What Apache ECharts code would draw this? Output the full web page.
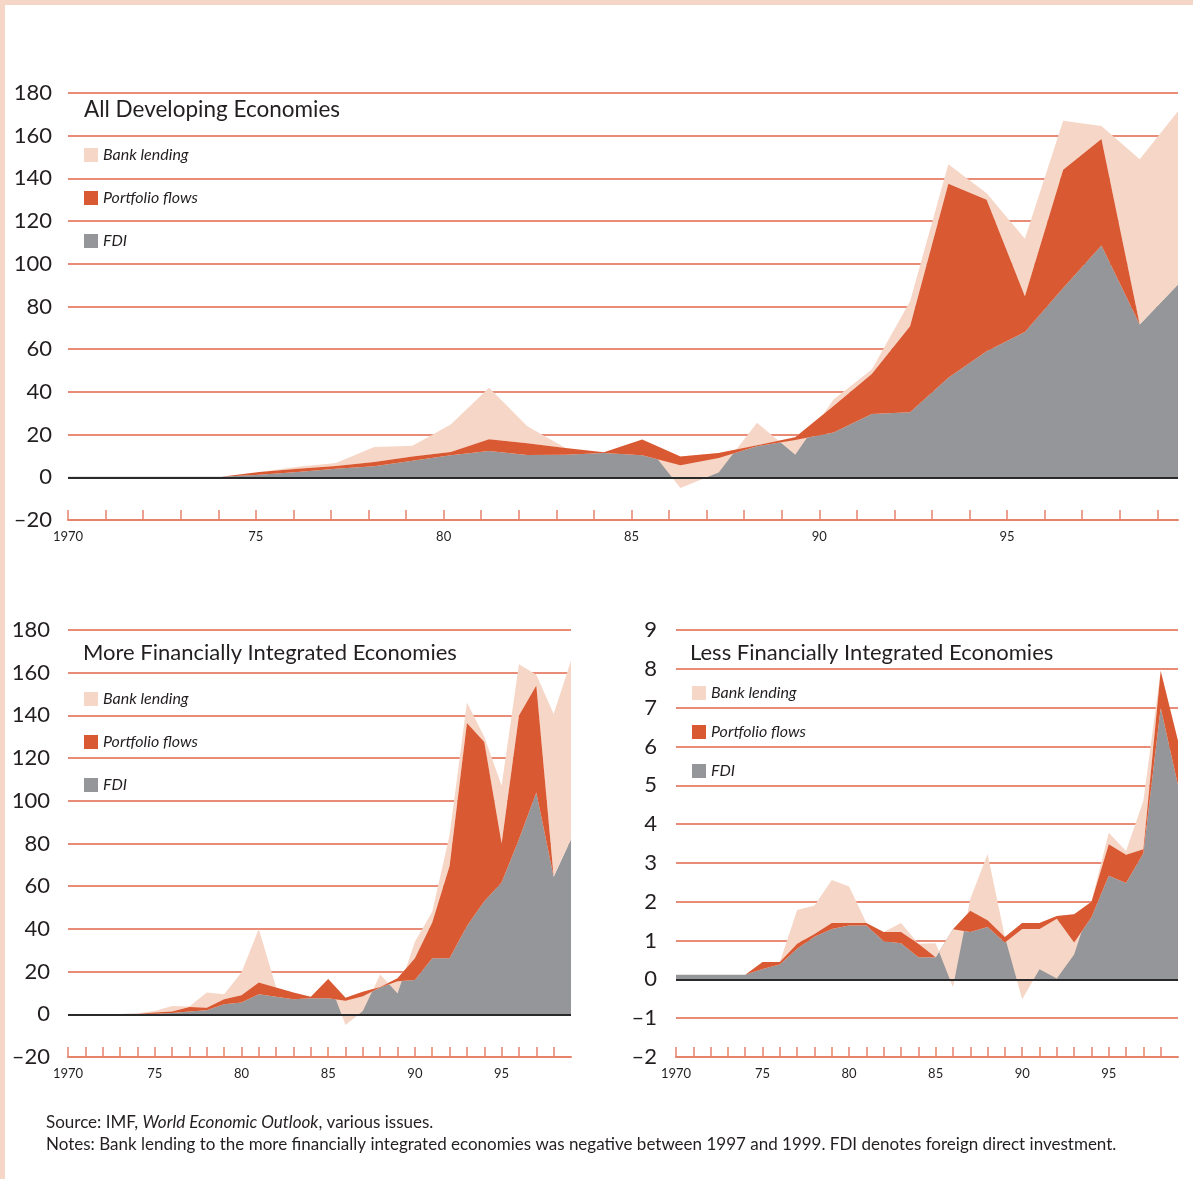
<!DOCTYPE html>
<html>
<head>
<meta charset="utf-8">
<script src="https://cdn.jsdelivr.net/npm/echarts@6/dist/echarts.min.js"></script>
<style>
html, body { margin: 0; padding: 0; background: #fff; }
#main { width: 1193px; height: 1179px; }
</style>
</head>
<body>
<div id="main"></div>
<script>
var years = [1970, 1971, 1972, 1973, 1974, 1975, 1976, 1977, 1978, 1979,
             1980, 1981, 1982, 1983, 1984, 1985, 1986, 1987, 1988, 1989,
             1990, 1991, 1992, 1993, 1994, 1995, 1996, 1997, 1998, 1999];
var labelYears = [1970, 1975, 1980, 1985, 1990, 1995];
var tickYears = years.slice(0, 29);

// All developing economies (billions of US dollars)
var allFdi = [0.2, 0.2, 0.2, 0.2, 0.2, 1.2, 2.5, 4, 5.2, 7.8,
              10.3, 12.3, 10.5, 10.6, 11.4, 10.3, 5.6, 9, 14.5, 17.5,
              21, 29.7, 30.5, 46.6, 59, 68, 88.7, 108.6, 71.6, 90.3];
var allPortfolio = [0, 0, 0, 0, 0, 1.3, 1.5, 1.3, 2, 1.9,
                    1.6, 5.5, 5.5, 3.1, 0.3, 7.4, 4.2, 2.4, 0.5, 1.3,
                    12.4, 18.7, 40.3, 90.9, 71, 16.8, 55.3, 49.9, 0, 0];
var allBank = [0, 0, 0, 0, 0, 0, 1, 1.4, 7, 5.1,
               12.8, 24.1, 7.9, 0, 0, 0, -14.8, -9.1, 10.5, -8.2,
               3, 2.1, 11.7, 9.1, 3, 26.9, 23, 6, 77.4, 81.2];

// More financially integrated economies
var moreFdi = [0.1, 0.1, 0.1, 0.1, 0.3, 0.3, 0.6, 1.3, 1.9, 4.7,
               5.5, 9.4, 8.2, 7, 7.5, 7.5, 6.3, 8.5, 12.5, 15.5,
               16.1, 26.2, 26.3, 41.4, 53, 61.7, 82, 103.9, 64.4, 82];
var morePortfolio = [0, 0, 0, 0, 0, 0.5, 0.7, 2.1, 1.2, 2.3,
                     3.4, 5.5, 4.3, 3.2, 0.7, 9, 1.5, 2.1, 0.3, 1.4,
                     10.1, 16.8, 43.2, 95, 74.5, 18.3, 58, 50.1, 0, 0];
var moreBank = [0, 0, 0, 0, 0.2, 0.8, 2.6, 0.2, 7.1, 2.4,
                10.7, 25.1, 0, 0, 0, 0, -12.8, -9.1, 5.9, -7.1,
                7.8, 5, 14.5, 9.6, 2.5, 27, 24, 5, 76.2, 83.6];

// Less financially integrated economies
var lessFdi = [0.12, 0.12, 0.12, 0.12, 0.12, 0.27, 0.38, 0.79, 1.1, 1.3,
               1.39, 1.39, 0.98, 0.93, 0.57, 0.57, 1.29, 1.22, 1.35, 0.95,
               1.3, 1.3, 1.56, 0.95, 1.6, 2.67, 2.48, 3.25, 7.0, 5.0];
var lessPortfolio = [0, 0, 0, 0, 0, 0.18, 0.07, 0.13, 0.07, 0.15,
                     0.06, 0.06, 0.24, 0.29, 0.35, 0, 0, 0.55, 0.17, 0.14,
                     0.15, 0.15, 0.07, 0.73, 0.4, 0.81, 0.73, 0.1, 0.95, 1.15];
var lessBank = [0, 0, 0, 0, 0, 0, 0, 0.87, 0.73, 1.11,
                0.94, 0, 0, 0.23, 0, 0.36, -1.49, 0.3, 1.71, 0,
                -1.96, -1.19, -1.61, -1.04, 0, 0.3, 0.1, 1.25, 0, 0];

var PALE = '#f6d6c6', RED = '#d95933', GREY = '#959699';
var GRIDLINE = '#e2664a', AXIS = '#e6836b', INK = '#231f20';
var FONT = 'Lato';

var myChart = echarts.init(document.getElementById('main'));

// stacked band: grey FDI at the bottom, portfolio on top of it, bank lending last
// (bank lending can be negative, so stack everything regardless of sign)
function area(name, vals, color, z, xi, yi, stack, zero) {
    var s = {
        name: name,
        type: 'line',
        stack: stack,
        stackStrategy: 'all',
        xAxisIndex: xi,
        yAxisIndex: yi,
        z: z,
        showSymbol: false,
        symbol: 'none',
        silent: true,
        color: color,
        lineStyle: { width: 0 },
        areaStyle: { color: color, opacity: 1 },
        data: vals
    };
    if (zero) {
        s.markLine = {
            silent: true,
            symbol: ['none', 'none'],
            label: { show: false },
            lineStyle: { color: '#2a2a2a', width: 2, type: 'solid' },
            data: [{ yAxis: 0 }]
        };
    }
    return s;
}

function dataAxis(grid) {
    return { type: 'category', gridIndex: grid, data: years, boundaryGap: false, show: false };
}

function labelAxis(grid, max, ticks) {
    return {
        type: 'value', gridIndex: grid, min: 1970, max: max, interval: 1,
        position: 'bottom',
        axisLine: { onZero: false, lineStyle: { color: AXIS, width: 2 } },
        axisTick: { inside: true, length: 10, customValues: ticks, lineStyle: { color: AXIS, width: 1.5 } },
        axisLabel: {
            customValues: labelYears, fontFamily: FONT, fontSize: 13, color: INK, margin: 10,
            formatter: function (v) { return v === 1970 ? '1970' : String(v % 100); }
        },
        splitLine: { show: false }
    };
}

function valueAxis(grid, min, max, step, margin) {
    return {
        type: 'value', gridIndex: grid, min: min, max: max, interval: step,
        axisLine: { show: false }, axisTick: { show: false },
        axisLabel: {
            fontFamily: FONT, fontSize: 22, color: INK, margin: margin,
            formatter: function (v) { return v < 0 ? '\u2013' + Math.abs(v) : String(v); }
        },
        splitLine: { lineStyle: { color: GRIDLINE, width: 1.5 } }
    };
}

function legendAt(left, top, gap) {
    return {
        data: ['Bank lending', 'Portfolio flows', 'FDI'],
        orient: 'vertical', left: left, top: top, padding: 0,
        icon: 'rect', itemWidth: 14, itemHeight: 14, itemGap: gap,
        selectedMode: false,
        textStyle: { fontFamily: FONT, fontStyle: 'italic', fontSize: 16, lineHeight: 16, color: INK }
    };
}

var titleStyle = { fontFamily: FONT, fontWeight: 'normal', fontSize: 22.5, color: INK };
var noteStyle = { fontFamily: FONT, fontWeight: 'normal', fontSize: 17, color: INK,
                  rich: { i: { fontFamily: FONT, fontStyle: 'italic', fontSize: 17, color: INK } } };

var option = {
    backgroundColor: '#ffffff',
    animation: false,
    graphic: [
        { type: 'rect', shape: { x: 0, y: 0, width: 1193, height: 5 }, style: { fill: PALE } },
        { type: 'rect', shape: { x: 0, y: 0, width: 5, height: 1179 }, style: { fill: PALE } }
    ],
    title: [
        { text: 'All Developing Economies', left: 84, top: 98, padding: 0, textStyle: titleStyle },
        { text: 'More Financially Integrated Economies', left: 83, top: 642, padding: 0,
          textStyle: { fontFamily: FONT, fontWeight: 'normal', fontSize: 22, color: INK } },
        { text: 'Less Financially Integrated Economies', left: 690, top: 642, padding: 0,
          textStyle: { fontFamily: FONT, fontWeight: 'normal', fontSize: 22, color: INK } },
        { text: 'Source: IMF, {i|World Economic Outlook}, various issues.', left: 46, top: 1114, padding: 0, textStyle: noteStyle },
        { text: 'Notes: Bank lending to the more financially integrated economies was negative between 1997 and 1999. FDI denotes foreign direct investment.',
          left: 46, top: 1136, padding: 0, textStyle: noteStyle }
    ],
    legend: [
        legendAt(84, 147, 27),
        legendAt(84, 691, 27),
        legendAt(692, 685, 23)
    ],
    grid: [
        { left: 68, top: 93, width: 1110, height: 427 },
        { left: 68, top: 630, width: 503, height: 427 },
        { left: 676, top: 630, width: 502, height: 427 }
    ],
    xAxis: [
        dataAxis(0),
        dataAxis(1),
        dataAxis(2),
        labelAxis(0, 1999.55, years),
        labelAxis(1, 1999, tickYears),
        labelAxis(2, 1999, tickYears)
    ],
    yAxis: [
        valueAxis(0, -20, 180, 20, 16),
        valueAxis(1, -20, 180, 20, 18),
        valueAxis(2, -2, 9, 1, 19)
    ],
    series: [
        area('FDI', allFdi, GREY, 2, 0, 0, 'all'),
        area('Portfolio flows', allPortfolio, RED, 4, 0, 0, 'all', true),
        area('Bank lending', allBank, PALE, 3, 0, 0, 'all'),

        area('FDI', moreFdi, GREY, 2, 1, 1, 'more'),
        area('Portfolio flows', morePortfolio, RED, 4, 1, 1, 'more', true),
        area('Bank lending', moreBank, PALE, 3, 1, 1, 'more'),

        area('FDI', lessFdi, GREY, 2, 2, 2, 'less'),
        area('Portfolio flows', lessPortfolio, RED, 4, 2, 2, 'less', true),
        area('Bank lending', lessBank, PALE, 3, 2, 2, 'less')
    ]
};

myChart.setOption(option);
</script>
</body>
</html>
